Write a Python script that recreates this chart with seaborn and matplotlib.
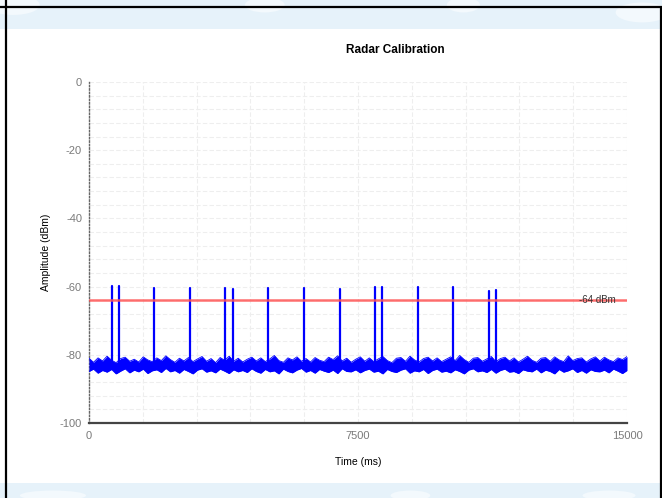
import numpy as np
import pandas as pd
import matplotlib
matplotlib.use("Agg")
import matplotlib.pyplot as plt
from matplotlib.patches import Rectangle, Ellipse
from matplotlib.lines import Line2D
from matplotlib.ticker import MultipleLocator, FixedLocator
import seaborn as sns

# ---- data ----
title = "Radar Calibration"
x_label = "Time (ms)"
y_label = "Amplitude (dBm)"
x_ticks = [0, 7500, 15000]
y_ticks = [0, -20, -40, -60, -80, -100]
threshold = -64
threshold_label = "-64 dBm"

spike_times = [640, 835, 1820, 2815, 3805, 4005, 5000, 5985, 6985, 7980, 8170,
               9170, 10160, 11150, 11345]
spike_peaks = [-59.7, -59.9, -60.5, -60.3, -60.5, -60.8, -60.5, -60.3, -60.8,
               -60.2, -60.0, -60.1, -60.2, -61.4, -60.9]
spike_base = -82.0

noise_hi = [-81.0, -82.2, -80.9, -81.8, -80.4, -81.6, -82.3, -81.1, -80.7, -81.9,
            -81.3, -82.1, -80.6, -81.5, -82.0, -80.9, -81.7, -80.3, -81.4, -82.2,
            -81.0, -81.8, -80.8, -82.0, -81.2, -80.5, -81.9, -81.1, -82.3, -80.8,
            -81.6, -80.4, -81.9, -81.0, -82.1, -81.3, -80.7, -81.8, -80.9, -82.0,
            -81.2, -80.2, -81.7, -82.2, -80.9, -81.5, -80.6, -81.9, -81.1, -82.1,
            -80.8, -81.6, -82.0, -80.7, -81.4, -80.3, -81.8, -81.0, -82.2, -81.3,
            -80.6, -81.9, -80.9, -82.0, -81.2, -80.5, -81.7, -82.3, -81.0, -80.8,
            -81.9, -80.4, -81.5, -82.1, -81.1, -80.7, -81.8, -80.9, -82.0, -81.3,
            -80.6, -81.7, -80.2, -81.4, -82.2, -81.0, -80.8, -81.9, -81.2, -80.5,
            -82.0, -81.1, -80.7, -81.8, -80.9, -82.1, -81.3, -80.4, -81.6, -82.2,
            -81.0, -80.8, -81.9, -80.6, -81.5, -82.0, -80.3, -81.7, -81.1, -80.9,
            -82.1, -81.2, -80.6, -81.8, -80.7, -81.5, -82.0, -80.9, -81.4, -80.5]
noise_lo = [-84.9, -84.2, -85.4, -84.6, -85.1, -84.3, -85.6, -84.8, -84.1, -85.3,
            -84.5, -85.0, -84.2, -85.5, -84.7, -84.4, -85.2, -84.0, -85.0, -84.6,
            -85.4, -84.3, -84.9, -85.6, -84.5, -84.1, -85.1, -84.7, -85.3, -84.2,
            -84.8, -85.5, -84.4, -85.0, -84.6, -85.2, -84.1, -84.9, -85.4, -84.3,
            -85.0, -84.7, -85.6, -84.2, -84.9, -85.3, -84.5, -84.0, -85.1, -84.6,
            -85.4, -84.3, -84.8, -85.2, -84.5, -85.5, -84.1, -84.9, -85.0, -84.4,
            -85.3, -84.6, -84.2, -85.1, -84.8, -85.6, -84.3, -84.9, -85.2, -84.5,
            -84.1, -85.4, -84.7, -85.0, -84.3, -85.5, -84.6, -84.2, -85.1, -84.8,
            -85.3, -84.4, -84.9, -85.6, -84.5, -84.1, -85.0, -84.7, -85.2, -84.3,
            -85.4, -84.6, -84.2, -85.1, -84.9, -85.5, -84.4, -84.8, -85.0, -84.2,
            -85.3, -84.5, -84.9, -85.6, -84.3, -85.1, -84.7, -84.1, -85.2, -84.6,
            -85.4, -84.4, -84.9, -85.0, -84.5, -85.3, -84.2, -84.8, -85.5, -84.6]

# ---- style ----
sns.set_theme(style="white")
plt.rcParams["font.family"] = ["Liberation Sans", "DejaVu Sans"]
plt.rcParams["axes.unicode_minus"] = False

fig = plt.figure(figsize=(6.62, 4.98), dpi=100)
fig.patch.set_facecolor("white")

# decorative background strips (screenshot surroundings)
strip_col = "#e6f2fa"
fig.patches.append(Rectangle((0, 1 - 29 / 498), 1, 29 / 498, transform=fig.transFigure,
                             facecolor=strip_col, edgecolor="none", zorder=0))
fig.patches.append(Rectangle((0, 0), 1, 15 / 498, transform=fig.transFigure,
                             facecolor=strip_col, edgecolor="none", zorder=0))
for cx, cy, w, h in [(0.02, 0.99, 0.08, 0.04), (0.40, 0.99, 0.06, 0.03),
                     (0.70, 0.99, 0.05, 0.03), (0.97, 0.975, 0.08, 0.04),
                     (0.08, 0.005, 0.10, 0.02), (0.62, 0.005, 0.06, 0.02),
                     (0.92, 0.005, 0.08, 0.02)]:
    fig.patches.append(Ellipse((cx, cy), w, h, transform=fig.transFigure,
                               facecolor="#f3f9fd", edgecolor="none", zorder=0))
# window border lines
fig.lines.append(Line2D([0, 1], [1 - 7.5 / 498] * 2, transform=fig.transFigure,
                        color="black", lw=1.6, zorder=5))
fig.lines.append(Line2D([5.5 / 662] * 2, [0, 1], transform=fig.transFigure,
                        color="black", lw=1.6, zorder=5))
fig.lines.append(Line2D([660.5 / 662] * 2, [0, 1 - 7.5 / 498], transform=fig.transFigure,
                        color="black", lw=1.6, zorder=5))
# white window body
fig.patches.append(Rectangle((6 / 662, 15 / 498), 654 / 662, (498 - 15 - 29) / 498,
                             transform=fig.transFigure, facecolor="white",
                             edgecolor="none", zorder=1))

ax = fig.add_axes([89 / 662, 1 - 423 / 498, 538 / 662, 341 / 498])
ax.set_facecolor("white")
ax.set_zorder(3)

# noise band
noise_t = np.linspace(0, 15000, len(noise_hi))
ax.fill_between(noise_t, noise_lo, noise_hi, color="#0000ff", lw=0, zorder=3)
noise_df = pd.DataFrame({"t": np.concatenate([noise_t, noise_t]),
                         "amp": noise_hi + noise_lo,
                         "edge": ["hi"] * len(noise_hi) + ["lo"] * len(noise_lo)})
sns.lineplot(data=noise_df, x="t", y="amp", units="edge", estimator=None,
             color="#0000ff", lw=0.6, ax=ax, zorder=3)

# spikes
spike_df = pd.DataFrame({
    "t": [t for t in spike_times for _ in range(2)],
    "amp": [v for p in spike_peaks for v in (spike_base, p)],
    "id": [i for i in range(len(spike_times)) for _ in range(2)],
})
sns.lineplot(data=spike_df, x="t", y="amp", units="id", estimator=None,
             color="#0000ff", lw=1.6, ax=ax, zorder=4)

# threshold line
ax.axhline(threshold, color="#ff5555", lw=1.8, alpha=0.85, zorder=5)
ax.text(13650, threshold, threshold_label, fontsize=7, color="#333333",
        va="center", ha="left", zorder=6)

# axes
ax.set_xlim(0, 15000)
ax.set_ylim(-100, 0)
ax.xaxis.set_major_locator(FixedLocator(x_ticks))
ax.yaxis.set_major_locator(FixedLocator(y_ticks))
ax.xaxis.set_minor_locator(MultipleLocator(1500))
ax.yaxis.set_minor_locator(MultipleLocator(4))
ax.grid(True, which="both", color="#eeeeee", lw=0.8, ls=(0, (4, 2)))
ax.set_axisbelow(True)

for s in ["top", "right"]:
    ax.spines[s].set_visible(False)
ax.spines["left"].set_linestyle((0, (1, 1.5)))
ax.spines["left"].set_color("#666666")
ax.spines["left"].set_linewidth(1.0)
ax.spines["bottom"].set_color("#444444")
ax.spines["bottom"].set_linewidth(1.6)

ax.tick_params(axis="both", which="major", labelsize=8, labelcolor="#7a7a7a",
               length=2, color="#888888", pad=3)
ax.tick_params(axis="x", which="major", pad=6, length=0)
ax.tick_params(axis="both", which="minor", length=0)

ax.set_xlabel(x_label, fontsize=7.5, color="black", labelpad=11)
ax.set_ylabel(y_label, fontsize=7.5, color="black", labelpad=6)

fig.text(395 / 662, 1 - 50 / 498, title, fontsize=8.5, fontweight="bold",
         ha="center", va="center", color="black")

fig.savefig("out.png", dpi=100)
